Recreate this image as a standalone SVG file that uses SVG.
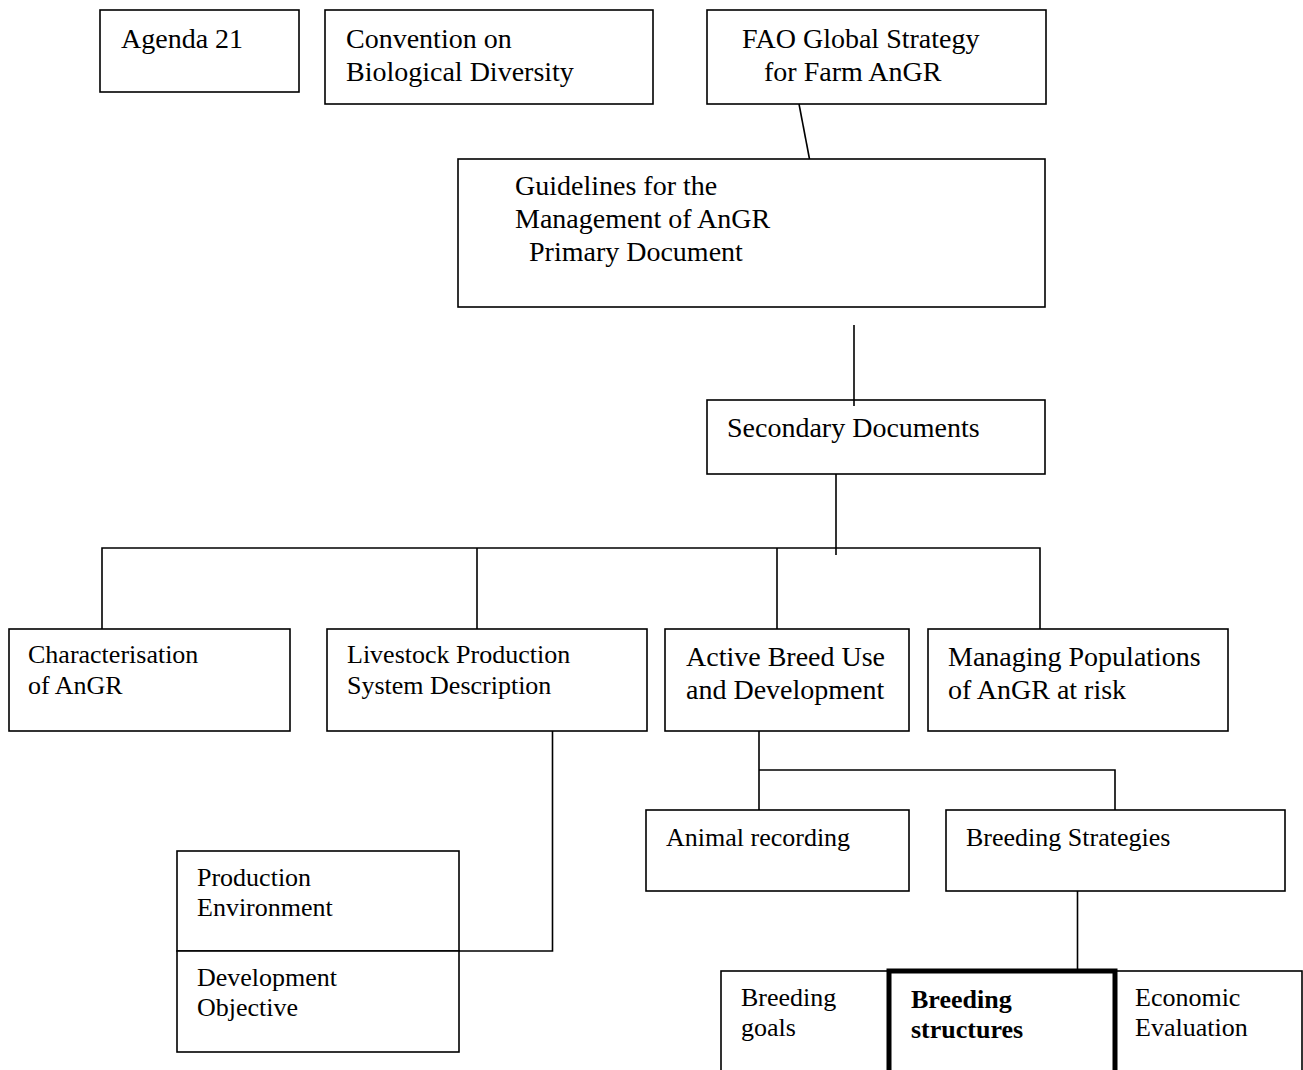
<svg xmlns="http://www.w3.org/2000/svg" width="1303" height="1070" viewBox="0 0 1303 1070">
<style>
.box{fill:#fff;stroke:#000;stroke-width:1.6}
.thick{fill:#fff;stroke:#000;stroke-width:5}
.ln{fill:none;stroke:#000;stroke-width:1.6}
text{font-family:"Liberation Serif","Times New Roman",serif;fill:#000}
.t28{font-size:28px}
.t26{font-size:26px}
.b{font-weight:bold}
</style>
<rect width="1303" height="1070" fill="#fff"/>
<g id="agenda21">
<rect class="box" x="100" y="10" width="199" height="82"/>
<text class="t28" x="121" y="48">Agenda 21</text>
</g>
<g id="cbd">
<rect class="box" x="325" y="10" width="328" height="94"/>
<text class="t28" x="346" y="48">Convention on</text>
<text class="t28" x="346" y="81">Biological Diversity</text>
</g>
<g id="fao">
<rect class="box" x="707" y="10" width="339" height="94"/>
<text class="t28" x="742" y="48">FAO Global Strategy</text>
<text class="t28" x="764" y="81">for Farm AnGR</text>
</g>
<g id="guidelines">
<rect class="box" x="458" y="159" width="587" height="148"/>
<text class="t28" x="515" y="195">Guidelines for the</text>
<text class="t28" x="515" y="228">Management of AnGR</text>
<text class="t28" x="529" y="261">Primary Document</text>
</g>
<g id="secondary">
<rect class="box" x="707" y="400" width="338" height="74"/>
<text class="t28" x="727" y="437">Secondary Documents</text>
</g>
<g id="characterisation">
<rect class="box" x="9" y="629" width="281" height="102"/>
<text class="t26" x="28" y="663">Characterisation</text>
<text class="t26" x="28" y="694">of AnGR</text>
</g>
<g id="livestock">
<rect class="box" x="327" y="629" width="320" height="102"/>
<text class="t26" x="347" y="663">Livestock Production</text>
<text class="t26" x="347" y="694">System Description</text>
</g>
<g id="active">
<rect class="box" x="665" y="629" width="244" height="102"/>
<text class="t28" x="686" y="666">Active Breed Use</text>
<text class="t28" x="686" y="699">and Development</text>
</g>
<g id="managing">
<rect class="box" x="928" y="629" width="300" height="102"/>
<text class="t28" x="948" y="666">Managing Populations</text>
<text class="t28" x="948" y="699">of AnGR at risk</text>
</g>
<g id="production-env">
<rect class="box" x="177" y="851" width="282" height="100"/>
<text class="t26" x="197" y="886">Production</text>
<text class="t26" x="197" y="916">Environment</text>
</g>
<g id="development-obj">
<rect class="box" x="177" y="951" width="282" height="101"/>
<text class="t26" x="197" y="986">Development</text>
<text class="t26" x="197" y="1016">Objective</text>
</g>
<g id="animal-recording">
<rect class="box" x="646" y="810" width="263" height="81"/>
<text class="t26" x="666" y="846">Animal recording</text>
</g>
<g id="breeding-strategies">
<rect class="box" x="946" y="810" width="339" height="81"/>
<text class="t26" x="966" y="846">Breeding Strategies</text>
</g>
<g id="breeding-goals">
<rect class="box" x="721" y="971" width="168" height="120"/>
<text class="t26" x="741" y="1006">Breeding</text>
<text class="t26" x="741" y="1036">goals</text>
</g>
<g id="economic-evaluation">
<rect class="box" x="1115" y="971" width="187" height="120"/>
<text class="t26" x="1135" y="1006">Economic</text>
<text class="t26" x="1135" y="1036">Evaluation</text>
</g>
<g id="breeding-structures">
<rect class="thick" x="889" y="971" width="226" height="120"/>
<text class="t26 b" x="911" y="1008">Breeding</text>
<text class="t26 b" x="911" y="1038">structures</text>
</g>
<g id="connectors">
<line class="ln" x1="799" y1="104" x2="809.5" y2="159"/>
<line class="ln" x1="854" y1="325" x2="854" y2="406"/>
<line class="ln" x1="836" y1="474" x2="836" y2="555"/>
<polyline class="ln" points="102,629 102,548 1040,548 1040,629"/>
<line class="ln" x1="477" y1="548" x2="477" y2="629"/>
<line class="ln" x1="777" y1="548" x2="777" y2="629"/>
<polyline class="ln" points="552.5,731 552.5,951 459,951"/>
<polyline class="ln" points="759,731 759,810"/>
<polyline class="ln" points="759,770 1115,770 1115,810"/>
<line class="ln" x1="1077.5" y1="891" x2="1077.5" y2="969"/>
</g>
</svg>
